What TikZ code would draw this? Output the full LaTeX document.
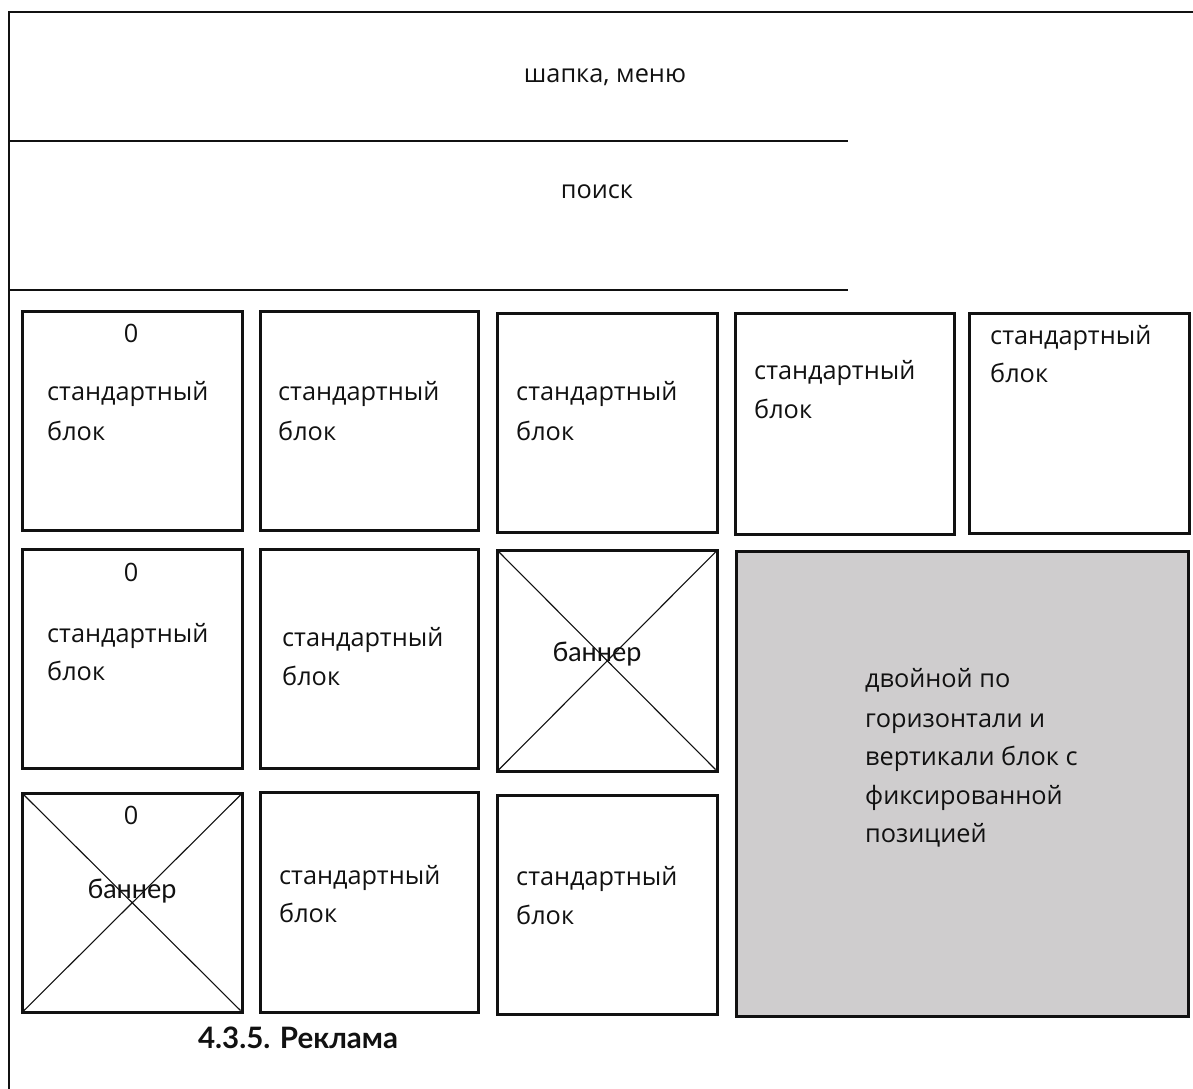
\documentclass[tikz,border=0pt]{standalone}
\usepackage{fontspec}
\setmainfont{Open Sans}
\newfontfamily\latofont{Lato}
\definecolor{ink}{HTML}{111111}
\definecolor{fixgray}{HTML}{CFCDCE}
\begin{document}
\begin{tikzpicture}[x=1pt,y=-1pt,
  frame/.style={draw=ink,line width=2.8pt},
  sep/.style={draw=ink,line width=1.5pt},
  box/.style={draw=ink,line width=2.5pt,rectangle,inner sep=0pt,anchor=north west},
  diag/.style={draw=ink,line width=1.1pt},
  lbl/.style={inner sep=0pt,font=\fontsize{25.3}{30}\selectfont,text=ink},
  lat/.style={inner sep=0pt,font=\latofont\fontsize{27}{30}\selectfont,text=ink},
  ttl/.style={inner sep=0pt,font=\latofont\bfseries\fontsize{29.5}{32}\selectfont,text=ink}]
\useasboundingbox (0,0) rectangle (1193,1088);
% outer frame
\coordinate (fbl) at (9,1090);
\coordinate (ftl) at (9,12);
\coordinate (ftr) at (1195,12);
\draw[frame] (fbl) -- (ftl) -- (ftr);
% header separators
\coordinate (s1a) at (9,141);  \coordinate (s1b) at (848,141);
\coordinate (s2a) at (9,290);  \coordinate (s2b) at (848,290);
\draw[sep] (s1a) -- (s1b);
\draw[sep] (s2a) -- (s2b);
\node[lbl] (hdr) at (605,77) {шапка, меню};
\node[lbl] (srch) at (597,192) {поиск};
% row 1
\node[box,minimum width=220pt,minimum height=219pt] (b1) at (21,310) {};
\node[box,minimum width=218pt,minimum height=219pt] (b2) at (259,310) {};
\node[box,minimum width=220pt,minimum height=219pt] (b3) at (496,312) {};
\node[box,minimum width=219pt,minimum height=221pt] (b4) at (734,312) {};
\node[box,minimum width=220pt,minimum height=220pt] (b5) at (968,312) {};
% row 2
\node[box,minimum width=220pt,minimum height=219pt] (b6) at (21,548) {};
\node[box,minimum width=218pt,minimum height=219pt] (b7) at (259,548) {};
\node[box,minimum width=220pt,minimum height=221pt] (b8) at (496,549) {};
\node[box,fill=fixgray,minimum width=452pt,minimum height=465pt] (big) at (735,550) {};
% row 3
\node[box,minimum width=220pt,minimum height=219pt] (b9) at (21,792) {};
\node[box,minimum width=218pt,minimum height=220pt] (b10) at (259,791) {};
\node[box,minimum width=220pt,minimum height=219pt] (b11) at (496,794) {};
% banner crosses
\draw[diag] ([shift={(3pt,-3pt)}]b8.north west) -- ([shift={(-3pt,3pt)}]b8.south east);
\draw[diag] ([shift={(-3pt,-3pt)}]b8.north east) -- ([shift={(3pt,3pt)}]b8.south west);
\draw[diag] ([shift={(3pt,-3pt)}]b9.north west) -- ([shift={(-3pt,3pt)}]b9.south east);
\draw[diag] ([shift={(-3pt,-3pt)}]b9.north east) -- ([shift={(3pt,3pt)}]b9.south west);
% texts
\node[lbl] (z1) at (131,333) {0};
\node[lbl,anchor=base west] (t1a) at (47,400) {стандартный};
\node[lbl,anchor=base west] (t1b) at (47,440) {блок};
\node[lbl,anchor=base west] (t2a) at (278,400) {стандартный};
\node[lbl,anchor=base west] (t2b) at (278,440) {блок};
\node[lbl,anchor=base west] (t3a) at (516,400) {стандартный};
\node[lbl,anchor=base west] (t3b) at (516,440) {блок};
\node[lbl,anchor=base west] (t4a) at (754,379) {стандартный};
\node[lbl,anchor=base west] (t4b) at (754,418) {блок};
\node[lbl,anchor=base west] (t5a) at (990,344) {стандартный};
\node[lbl,anchor=base west] (t5b) at (990,382) {блок};
\node[lbl] (z6) at (131,572) {0};
\node[lbl,anchor=base west] (t6a) at (47,642) {стандартный};
\node[lbl,anchor=base west] (t6b) at (47,680) {блок};
\node[lbl,anchor=base west] (t7a) at (282,646) {стандартный};
\node[lbl,anchor=base west] (t7b) at (282,685) {блок};
\node[lat] (bn8) at (597,654) {баннер};
\node[lbl] (z9) at (131,815) {0};
\node[lat] (bn9) at (132,891) {баннер};
\node[lbl,anchor=base west] (t10a) at (279,884) {стандартный};
\node[lbl,anchor=base west] (t10b) at (279,922) {блок};
\node[lbl,anchor=base west] (t11a) at (516,885) {стандартный};
\node[lbl,anchor=base west] (t11b) at (516,924) {блок};
\node[lbl,anchor=base west] (g1) at (865,687) {двойной по};
\node[lbl,anchor=base west] (g2) at (865,727) {горизонтали и};
\node[lbl,anchor=base west] (g3) at (865,765) {вертикали блок с};
\node[lbl,anchor=base west] (g4) at (865,804) {фиксированной};
\node[lbl,anchor=base west] (g5) at (865,842) {позицией};
\node[ttl] (title) at (298,1038) {4.3.5. Реклама};
\end{tikzpicture}
\end{document}
